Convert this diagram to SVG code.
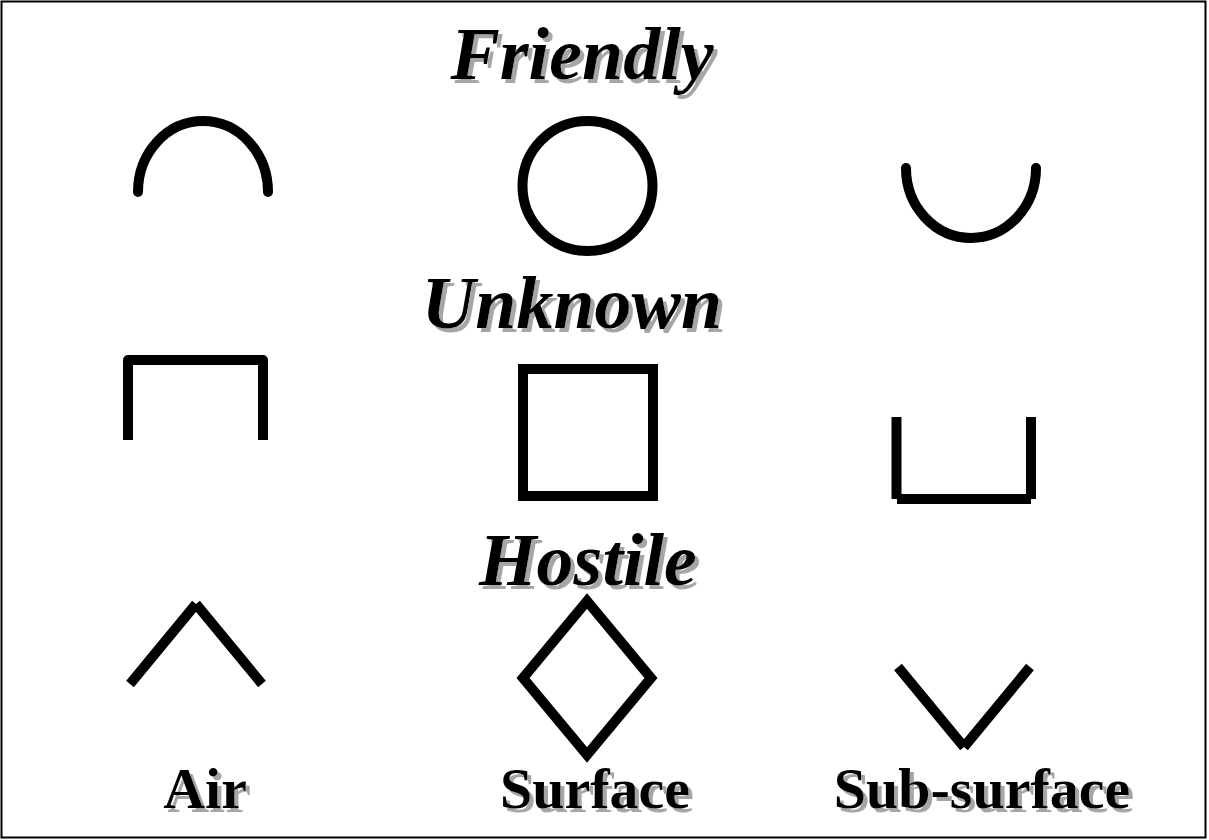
<svg xmlns="http://www.w3.org/2000/svg" width="1209" height="840" viewBox="0 0 1209 840">
<defs>
<filter id="shadow" x="-10%" y="-20%" width="130%" height="150%">
<feOffset in="SourceAlpha" dx="4" dy="4" result="off"/>
<feFlood flood-color="#a6a6a6"/>
<feComposite in2="off" operator="in" result="sh"/>
<feMerge><feMergeNode in="sh"/><feMergeNode in="SourceGraphic"/></feMerge>
</filter>
</defs>
<style>
.title{font-family:"Liberation Serif","Times New Roman",serif;font-weight:bold;font-style:italic;font-size:74px;text-anchor:middle;fill:#000;filter:url(#shadow)}
.label{font-family:"Liberation Serif","Times New Roman",serif;font-weight:bold;font-size:58px;text-anchor:middle;fill:#000;filter:url(#shadow)}
.sym{fill:none;stroke:#000;stroke-width:10}
</style>
<rect x="1.5" y="1.5" width="1204" height="836" fill="#fff" stroke="#000" stroke-width="2"/>
<g id="title-friendly"><text class="title" x="582" y="79">Friendly</text></g>
<g id="title-unknown"><text class="title" x="572" y="328">Unknown</text></g>
<g id="title-hostile"><text class="title" x="588" y="585">Hostile</text></g>
<g id="friendly-air"><path class="sym" stroke-linecap="round" d="M138 192 A65 71 0 0 1 268 192"/></g>
<g id="friendly-surface"><circle class="sym" cx="587.5" cy="186" r="65"/></g>
<g id="friendly-subsurface"><path class="sym" stroke-linecap="round" d="M906 168 A65 70 0 0 0 1036 168"/></g>
<g id="unknown-air"><path class="sym" stroke-linejoin="round" d="M128 440 V360 H263 V440"/></g>
<g id="unknown-surface"><rect class="sym" x="523" y="369" width="130" height="127"/></g>
<g id="unknown-subsurface">
<path class="sym" d="M896.5 417 V499 M1031 417 V499"/>
<rect x="897" y="494" width="134" height="10" fill="#000"/>
</g>
<g id="hostile-air"><path class="sym" d="M130 684 L196 604 M196 604 L262 684"/></g>
<g id="hostile-surface"><path class="sym" stroke-linejoin="miter" stroke-miterlimit="10" d="M587 601 L651 678 L587 755 L523 678 Z"/></g>
<g id="hostile-subsurface"><path class="sym" d="M898 667 L964 747 M964 747 L1030 667"/></g>
<g id="label-air"><text class="label" x="205" y="808">Air</text></g>
<g id="label-surface"><text class="label" x="595" y="808">Surface</text></g>
<g id="label-subsurface"><text class="label" x="982" y="808">Sub-surface</text></g>
<g id="connectors"/>
</svg>
